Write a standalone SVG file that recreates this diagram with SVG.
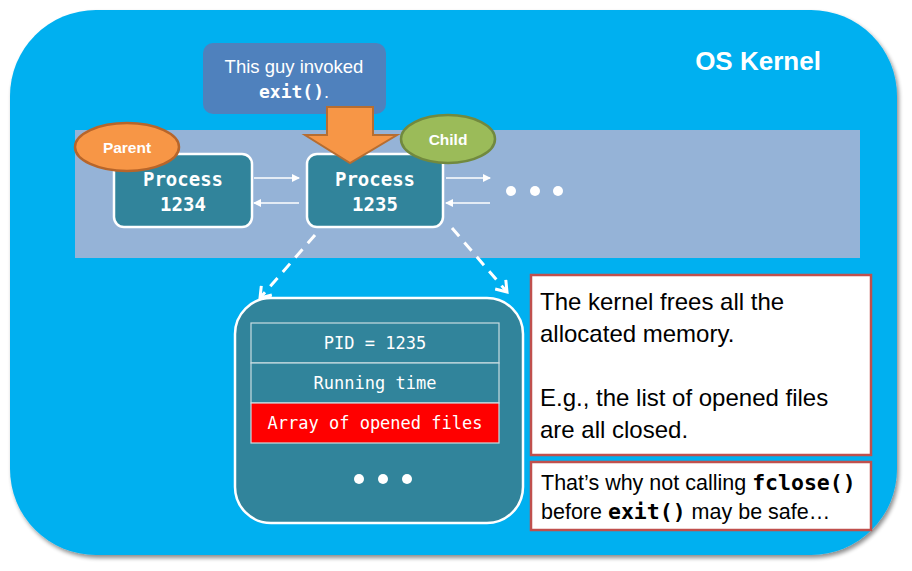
<svg xmlns="http://www.w3.org/2000/svg" width="912" height="571" viewBox="0 0 912 571">
<defs>
<filter id="sh" x="-5%" y="-5%" width="110%" height="110%">
<feGaussianBlur in="SourceAlpha" stdDeviation="2"/>
<feOffset dx="2" dy="3"/>
<feComponentTransfer><feFuncA type="linear" slope="0.45"/></feComponentTransfer>
<feMerge><feMergeNode/><feMergeNode in="SourceGraphic"/></feMerge>
</filter>
<marker id="ah" markerWidth="8" markerHeight="8" refX="7" refY="4" orient="auto" markerUnits="userSpaceOnUse">
<path d="M0,0 L8,4 L0,8 z" fill="#fff"/>
</marker>
<marker id="dh" markerWidth="16" markerHeight="16" refX="13" refY="8" orient="auto" markerUnits="userSpaceOnUse">
<path d="M3,1 L13,8 L3,15" fill="none" stroke="#fff" stroke-width="3"/>
</marker>
<style>
.pbox{fill:#31849B;stroke:#fff;stroke-width:2.5}
.ptxt{font-family:"DejaVu Sans Mono","Liberation Mono",monospace;font-weight:bold;font-size:19px;fill:#fff;text-anchor:middle}
.ttxt{font-family:"DejaVu Sans Mono","Liberation Mono",monospace;font-size:17px;fill:#fff;text-anchor:middle}
.sans{font-family:"Liberation Sans",Arial,sans-serif}
.mono{font-family:"DejaVu Sans Mono","Liberation Mono",monospace;font-weight:bold}
.link{stroke:#fff;stroke-width:1.5;fill:none;marker-end:url(#ah)}
.dash{stroke:#fff;stroke-width:3;fill:none;stroke-dasharray:11 8;marker-end:url(#dh)}
.note{fill:#fff;stroke:#C0504D;stroke-width:2.5}
</style>
</defs>
<g id="kernel">
<rect x="10" y="10" width="887" height="545" rx="86" ry="86" fill="#00B0F0" filter="url(#sh)"/>
<text x="758" y="70" class="sans" font-size="26" font-weight="bold" fill="#fff" text-anchor="middle">OS Kernel</text>
</g>
<g id="band">
<rect x="75" y="130" width="785" height="128" fill="#95B3D7"/>
</g>
<g id="callout">
<rect x="203" y="43" width="183" height="71" rx="10" fill="#4F81BD"/>
<text x="294" y="73" class="sans" font-size="18.5" fill="#fff" text-anchor="middle">This guy invoked</text>
<text x="294" y="98" font-size="18" fill="#fff" text-anchor="middle"><tspan class="mono">exit()</tspan><tspan class="sans">.</tspan></text>
</g>
<g id="process1234">
<rect x="114" y="154" width="138" height="73" rx="10" class="pbox"/>
<text x="183" y="186" class="ptxt">Process</text>
<text x="183" y="211" class="ptxt">1234</text>
</g>
<g id="process1235">
<rect x="307" y="154" width="136" height="73" rx="10" class="pbox"/>
<text x="375" y="186" class="ptxt">Process</text>
<text x="375" y="211" class="ptxt">1235</text>
</g>
<g id="more-dots" fill="#fff">
<circle cx="511" cy="191" r="5"/>
<circle cx="535" cy="191" r="5"/>
<circle cx="558" cy="191" r="5"/>
</g>
<g id="exit-arrow">
<path d="M327,107 H373 V135 H397 L350,163 L305,135 H327 Z" fill="#F79646" stroke="#B66D31" stroke-width="2"/>
</g>
<g id="parent">
<ellipse cx="127" cy="147" rx="52" ry="24" fill="#F79646" stroke="#B7652A" stroke-width="2.5"/>
<text x="127" y="153" class="sans" font-size="15.5" font-weight="bold" fill="#fff" text-anchor="middle">Parent</text>
</g>
<g id="child">
<ellipse cx="448" cy="139" rx="47" ry="24" fill="#9BBB59" stroke="#71893F" stroke-width="2.5"/>
<text x="448" y="145" class="sans" font-size="15.5" font-weight="bold" fill="#fff" text-anchor="middle">Child</text>
</g>
<g id="connectors">
<line x1="254" y1="178" x2="299" y2="178" class="link"/>
<line x1="299" y1="203" x2="254" y2="203" class="link"/>
<line x1="446" y1="178" x2="490" y2="178" class="link"/>
<line x1="490" y1="203" x2="446" y2="203" class="link"/>
<line x1="315" y1="235" x2="260" y2="298" class="dash"/>
<line x1="452" y1="228" x2="507" y2="292" class="dash"/>
</g>
<g id="pcb">
<rect x="235" y="298" width="288" height="225" rx="36" class="pbox"/>
<rect x="251" y="323" width="248" height="40" fill="#31849B" stroke="#C9DCE2" stroke-width="1.2"/>
<rect x="251" y="363" width="248" height="40" fill="#31849B" stroke="#C9DCE2" stroke-width="1.2"/>
<rect x="251" y="403" width="248" height="40" fill="#FF0000" stroke="#C9DCE2" stroke-width="1.2"/>
<text x="375" y="349" class="ttxt">PID = 1235</text>
<text x="375" y="389" class="ttxt">Running time</text>
<text x="375" y="429" class="ttxt">Array of opened files</text>
<g fill="#fff">
<circle cx="359" cy="479" r="5"/>
<circle cx="383" cy="479" r="5"/>
<circle cx="407" cy="479" r="5"/>
</g>
</g>
<g id="note1">
<rect x="531" y="275" width="340" height="180" class="note"/>
<g class="sans" font-size="24" fill="#000">
<text x="540" y="310">The kernel frees all the</text>
<text x="540" y="342">allocated memory.</text>
<text x="540" y="406">E.g., the list of opened files</text>
<text x="540" y="438">are all closed.</text>
</g>
</g>
<g id="note2">
<rect x="531" y="462" width="340" height="68" class="note"/>
<text x="541" y="490" fill="#000"><tspan class="sans" font-size="21.5">That’s why not calling </tspan><tspan class="mono" font-size="21.5">fclose()</tspan></text>
<text x="541" y="519" fill="#000"><tspan class="sans" font-size="21.5">before </tspan><tspan class="mono" font-size="21.5">exit()</tspan><tspan class="sans" font-size="21.5"> may be safe…</tspan></text>
</g>
</svg>
